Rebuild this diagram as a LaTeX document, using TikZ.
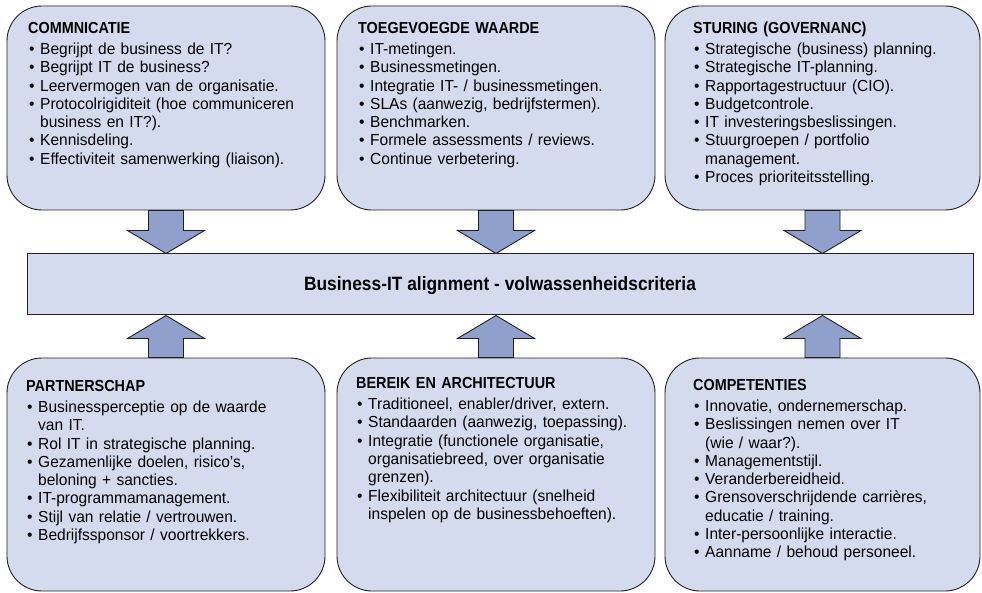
\documentclass[tikz,border=0pt]{standalone}
\usepackage{fontspec}
\setmainfont{Liberation Sans}[FakeStretch=0.97, BoldFeatures={FakeStretch=0.9}]
\usetikzlibrary{calc}
\definecolor{boxfill}{RGB}{213,219,238}
\definecolor{arrowfill}{RGB}{143,160,204}
\definecolor{edge}{RGB}{35,31,32}
\pgfdeclarelayer{back}
\pgfsetlayers{back,main}
% bullet item, continuation line, and a bold heading line
\newcommand{\itm}{\par\noindent\makebox[12pt][l]{\hspace{1pt}\textbullet}}
\newcommand{\cnt}{\\\hspace*{12pt}}
\newcommand{\hd}[1]{\noindent\rule{0pt}{12pt}\textbf{#1}\par\vspace{3pt}}
% block arrow from a panel down to the bar
\newcommand{\downblk}[2]{%
  \coordinate (tip) at (#1.south |- #2.north);
  \path[blk] ([xshift=-17.5pt]#1.south) -- ($(tip)+(-17.5,-23)$) -- ($(tip)+(-38.5,-23)$)
    -- (tip) -- ($(tip)+(38.5,-23)$) -- ($(tip)+(17.5,-23)$) -- ([xshift=17.5pt]#1.south) -- cycle;}
% block arrow from a panel up to the bar
\newcommand{\upblk}[2]{%
  \coordinate (tip) at (#1.north |- #2.south);
  \path[blk] ([xshift=-17.5pt]#1.north) -- ($(tip)+(-17.5,23)$) -- ($(tip)+(-38.5,23)$)
    -- (tip) -- ($(tip)+(38.5,23)$) -- ($(tip)+(17.5,23)$) -- ([xshift=17.5pt]#1.north) -- cycle;}

\begin{document}
\begin{tikzpicture}[x=1pt,y=-1pt,
  panel/.style={draw=edge, line width=0.9pt, fill=boxfill, rounded corners=35pt, inner sep=0pt},
  barbox/.style={draw=edge, line width=1pt, fill=boxfill, inner sep=0pt},
  txt/.style={anchor=north west, inner sep=0pt, text width=290pt, align=left,
    font=\fontsize{16}{18.3}\selectfont},
  blk/.style={draw=edge, line width=0.9pt, fill=arrowfill, line join=miter}]
\useasboundingbox (0,0) rectangle (982,593);

% panels
\node[panel, minimum width=318pt, minimum height=204pt] (com) at (166,108) {};
\node[panel, minimum width=318pt, minimum height=204pt] (waa) at (496,108) {};
\node[panel, minimum width=315pt, minimum height=204pt] (stu) at (822.5,108) {};
\node[panel, minimum width=318pt, minimum height=233pt] (par) at (166,474.5) {};
\node[panel, minimum width=318pt, minimum height=233pt] (ber) at (496,474.5) {};
\node[panel, minimum width=315pt, minimum height=233pt] (cmp) at (822.5,474.5) {};

% central bar
\node[barbox, minimum width=946pt, minimum height=61pt] (bar) at (500,284.5) {};
\node[anchor=base, inner sep=0pt, font=\fontsize{19.3}{22}\selectfont\bfseries] (bartxt) at (500,291)
  {Business-IT alignment - volwassenheidscriteria};

% block arrows
\begin{pgfonlayer}{back}
\downblk{com}{bar}
\downblk{waa}{bar}
\downblk{stu}{bar}
\upblk{par}{bar}
\upblk{ber}{bar}
\upblk{cmp}{bar}
\end{pgfonlayer}

% panel texts
\node[txt] (comtxt) at (28,21) {\hd{COMMNICATIE}
\itm Begrijpt de business de IT?
\itm Begrijpt IT de business?
\itm Leervermogen van de organisatie.
\itm Protocolrigiditeit (hoe communiceren\cnt business en IT?).
\itm Kennisdeling.
\itm Effectiviteit samenwerking (liaison).\par};

\node[txt] (waatxt) at (358,21) {\hd{TOEGEVOEGDE WAARDE}
\itm IT-metingen.
\itm Businessmetingen.
\itm Integratie IT- / businessmetingen.
\itm SLAs (aanwezig, bedrijfstermen).
\itm Benchmarken.
\itm Formele assessments / reviews.
\itm Continue verbetering.\par};

\node[txt] (stutxt) at (693,21) {\hd{STURING (GOVERNANC)}
\itm Strategische (business) planning.
\itm Strategische IT-planning.
\itm Rapportagestructuur (CIO).
\itm Budgetcontrole.
\itm IT investeringsbeslissingen.
\itm Stuurgroepen / portfolio\cnt management.
\itm Proces prioriteitsstelling.\par};

\node[txt] (partxt) at (26,379) {\hd{PARTNERSCHAP}
\itm Businessperceptie op de waarde\cnt van IT.
\itm Rol IT in strategische planning.
\itm Gezamenlijke doelen, risico’s,\cnt beloning + sancties.
\itm IT-programmamanagement.
\itm Stijl van relatie / vertrouwen.
\itm Bedrijfssponsor / voortrekkers.\par};

\node[txt] (bertxt) at (356,376) {\hd{BEREIK EN ARCHITECTUUR}
\itm Traditioneel, enabler/driver, extern.
\itm Standaarden (aanwezig, toepassing).
\itm Integratie (functionele organisatie,\cnt organisatiebreed, over organisatie\cnt grenzen).
\itm Flexibiliteit architectuur (snelheid\cnt inspelen op de businessbehoeften).\par};

\node[txt] (cmptxt) at (693,378) {\hd{COMPETENTIES}
\itm Innovatie, ondernemerschap.
\itm Beslissingen nemen over IT\cnt (wie / waar?).
\itm Managementstijl.
\itm Veranderbereidheid.
\itm Grensoverschrijdende carrières,\cnt educatie / training.
\itm Inter-persoonlijke interactie.
\itm Aanname / behoud personeel.\par};
\end{tikzpicture}
\end{document}
